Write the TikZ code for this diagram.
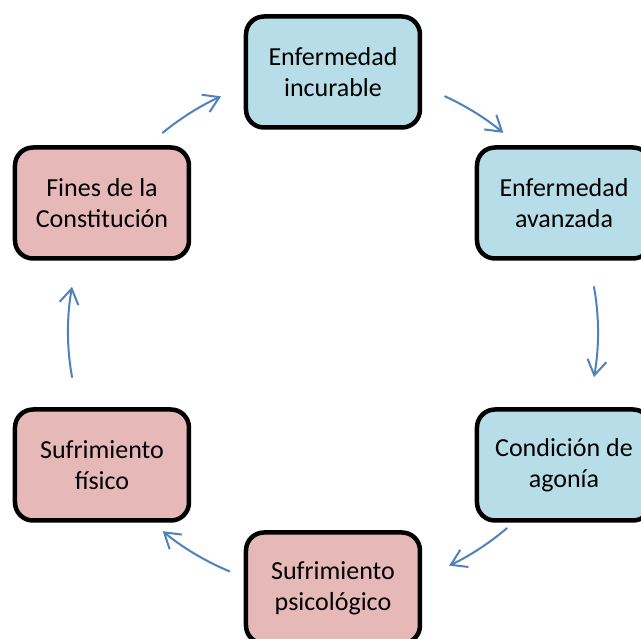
\documentclass[tikz,border=0pt]{standalone}
\usepackage{fontspec}
\setmainfont{Carlito}
\usetikzlibrary{arrows.meta}
\definecolor{boxblue}{HTML}{B7DEE8}
\definecolor{boxpink}{HTML}{E6B9B8}
\definecolor{arrowblue}{HTML}{4F81BD}
\tikzset{
  stagebox/.style={draw=black, line width=4.5pt, rounded corners=18pt,
    minimum width=174pt, minimum height=111pt, align=center,
    font=\fontsize{26}{31}\selectfont},
  cyclearrow/.style={arrowblue, line width=2pt,
    -{Straight Barb[length=15pt,width=19pt]}}
}
\begin{document}
\begin{tikzpicture}[x=1pt, y=1pt, line join=round, line cap=round]
\def\dx{231}
\useasboundingbox (-333,-307) rectangle (308,332);
\coordinate (c) at (0,0);
% cycle boxes
\node[stagebox, fill=boxblue] (incurable) at (0,260) {Enfermedad\\incurable};
\node[stagebox, fill=boxblue] (avanzada) at (\dx,129) {Enfermedad\\avanzada};
\node[stagebox, fill=boxblue] (agonia) at (\dx,-133) {Condición de\\agonía};
\node[stagebox, fill=boxpink] (psico) at (0,-256) {Sufrimiento\\psicológico};
\node[stagebox, fill=boxpink] (fisico) at (-\dx,-133) {Sufrimiento\\físico};
\node[stagebox, fill=boxpink] (fines) at (-\dx,129) {Fines de la\\Constitución};
% arrows between the boxes
\foreach \a/\b in {65/50, 10/-10, -49/-64, -113/-130, 190/170, 130/115}
  \draw[cyclearrow] ([shift={(\a:265 and 260)}]c)
    arc[start angle=\a, end angle=\b, x radius=265, y radius=260];
\end{tikzpicture}
\end{document}
